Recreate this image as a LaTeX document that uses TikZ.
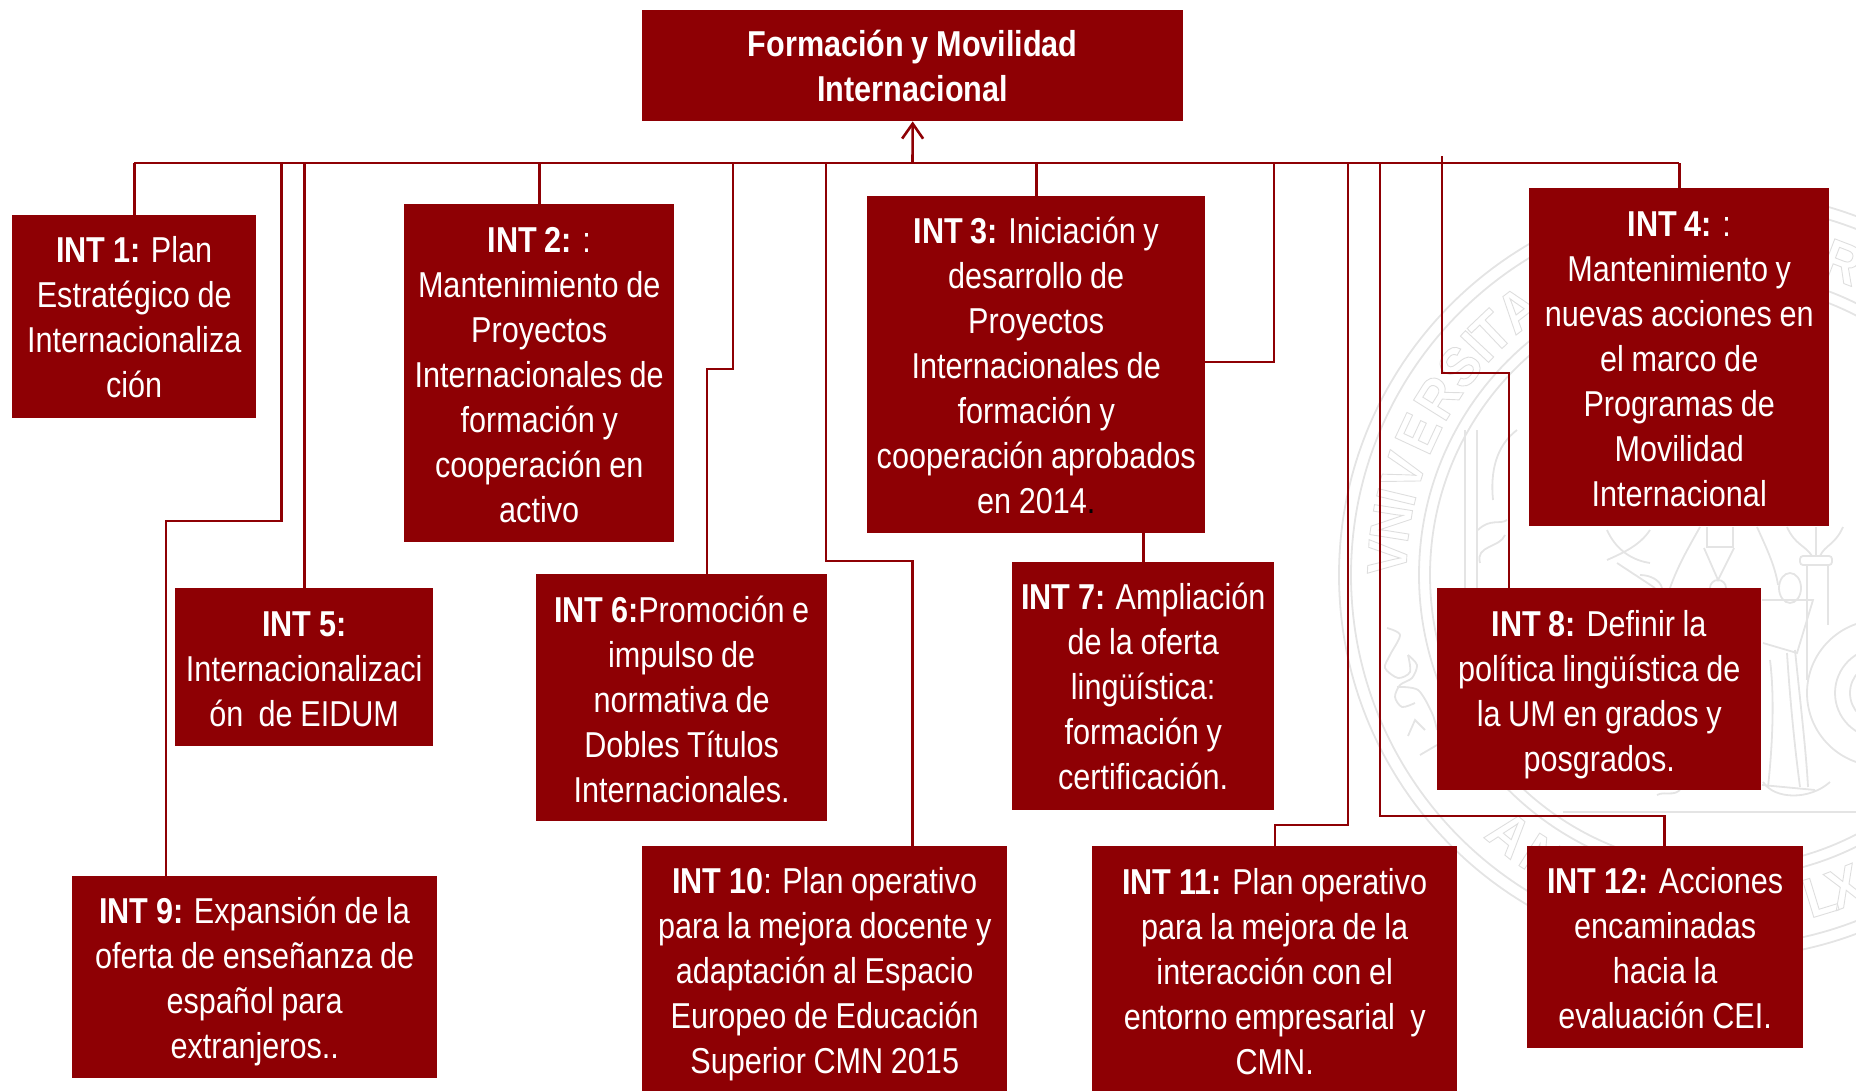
\documentclass[tikz,border=0pt]{standalone}
\usepackage{fontspec}
\usetikzlibrary{calc,arrows.meta}
\setmainfont{Liberation Sans}[FakeStretch=0.85,WordSpace=0.9]
\newfontfamily\sealfont{Liberation Sans}[FakeStretch=0.92]
\definecolor{umred}{HTML}{8E0004}
\definecolor{sealgray}{HTML}{E4E4E4}
\newcommand\sealletter[1]{\special{pdf:code 1 Tr 0.9 w 0.87 G}#1\special{pdf:code 0 Tr}}
\newcommand\bt[1]{\textbf{#1}}
\tikzset{
  box/.style={fill=umred,anchor=north west,inner sep=0pt},
  boxtext/.style={text=white,align=center,inner sep=0pt,font=\fontsize{36}{45}\selectfont},
  conn/.style={draw=umred,line width=2.6pt,line join=miter},
  seal/.style={draw=sealgray,line width=1.8pt},
  sealtxt/.style={inner sep=0pt,font=\sealfont\bfseries\fontsize{56}{56}\selectfont},
}
% name, x0, y0, x1, y1, text shift, text
\newcommand\boxat[7]{%
  \node[box,minimum width=#4 pt-#2 pt,minimum height=#5 pt-#3 pt] (#1) at (#2,#3) {};
  \node[boxtext] (#1t) at ($(#1.center)+(0,#6)$) {#7};}
\begin{document}
\begin{tikzpicture}[x=1pt,y=-1pt]
\useasboundingbox (0,0) rectangle (1856,1091);
% ---------- watermark seal
\begin{scope}
\clip (0,0) rectangle (1856,1091);
\coordinate (sc) at (1722,575);
\foreach \r in {383,371,303,292} \draw[seal] (sc) circle[radius=\r pt];
\foreach \a/\l/\i in {177/V/1,171/N/2,166.5/I/3,162/V/4,155/E/5,148/R/6,141.5/S/7,137/I/8,133.5/T/9,127.5/A/10,69/R/11}
  \node[sealtxt,rotate=\a-90] (s\i) at ({1722+335*cos(\a)},{575-335*sin(\a)}) {\sealletter{\l}};
\foreach \a/\l/\i in {230.6/A/12,237.5/N/13,287/L/14,291.5/X/15}
  \node[sealtxt,rotate=\a+90] (s\i) at ({1722+335*cos(\a)},{575-335*sin(\a)}) {\sealletter{\l}};
% pedestal line
\draw[seal] (1563,812) -- (1856,812);
% left column and capital
\draw[seal] (1465,430) -- (1465,590) (1477,430) -- (1477,590);
\draw[seal] (1493,500) .. controls (1490,470) and (1497,445) .. (1517,430);
\draw[seal] (1478,530) .. controls (1490,518) and (1500,525) .. (1507,520);
\draw[seal] (1480,563) .. controls (1475,545) and (1500,548) .. (1505,535);
% left scroll
\draw[seal] plot[smooth] coordinates {(1387,628)(1400,635)(1390,655)(1385,668)(1398,678)(1410,672)(1408,655)};
\draw[seal] plot[smooth] coordinates {(1408,655)(1417,665)(1412,678)(1400,685)(1395,697)(1402,707)(1415,703)};
\draw[seal] plot[smooth] coordinates {(1397,687)(1418,690)(1432,713)(1437,730)};
\draw[seal] (1408,736) -- (1415,720) -- (1425,730) (1420,755) -- (1437,745);
% left foliage below INT 4
\draw[seal] (1607,530) .. controls (1615,548) and (1630,560) .. (1650,563);
\draw[seal] (1650,530) .. controls (1640,545) and (1625,552) .. (1607,560);
\draw[seal] (1617,563) -- (1655,588);
\draw[seal] (1640,575) .. controls (1650,575) and (1660,580) .. (1662,588);
% central figure
\draw[seal] (1700,527) .. controls (1690,545) and (1678,565) .. (1670,588);
\draw[seal] (1757,527) .. controls (1765,545) and (1775,565) .. (1778,585);
\draw[seal] (1707,527) -- (1707,547) -- (1733,547) -- (1733,527);
\draw[seal] (1704,548) -- (1718,580) -- (1734,548);
\draw[seal] (1718,588) circle[radius=8pt];
% right column
\draw[seal] (1787,527) .. controls (1795,545) and (1805,545) .. (1812,556);
\draw[seal] (1843,527) .. controls (1835,545) and (1825,545) .. (1820,556);
\draw[seal] (1816,527) -- (1816,556);
\draw[seal,rounded corners=3pt] (1800,556) rectangle (1832,565);
\draw[seal] (1807,565) -- (1807,680) (1828,565) -- (1828,625);
% hand and book
\draw[seal] (1790,588) ellipse[x radius=11pt,y radius=15pt];
\draw[seal] (1762,600) -- (1813,600) -- (1797,653) -- (1763,643);
% robe folds
\draw[seal] (1787,653) .. controls (1790,700) and (1795,750) .. (1800,787);
\draw[seal] (1795,650) .. controls (1800,700) and (1806,750) .. (1808,787);
\draw[seal] (1770,660) .. controls (1775,700) and (1772,750) .. (1768,787);
\draw[seal] (1762,785) -- (1815,790);
% medallion
\draw[seal] (1880,693) circle[radius=73pt] (1880,693) circle[radius=45pt] (1880,693) circle[radius=30pt];
% bottom scrolls
\draw[seal] (1657,795) .. controls (1665,790) and (1680,800) .. (1683,782);
\draw[seal] (1763,782) .. controls (1775,800) and (1810,800) .. (1830,782);
\end{scope}
% ---------- boxes
\boxat{top}{642}{10}{1183}{121}{0}{\bt{Formación y Movilidad}\\\bt{Internacional}}
\boxat{int1}{12}{215}{256}{418}{0.5}{\bt{INT 1:} Plan\\Estratégico de\\Internacionaliza\\ción}
\boxat{int2}{404}{204}{674}{542}{1.5}{\bt{INT 2:} :\\Mantenimiento de\\Proyectos\\Internacionales de\\formación y\\cooperación en\\activo}
\boxat{int3}{867}{196}{1205}{533}{1}{\bt{INT 3:} Iniciación y\\desarrollo de\\Proyectos\\Internacionales de\\formación y\\cooperación aprobados\\en 2014\textcolor{black}{.}}
\boxat{int4}{1529}{188}{1829}{526}{2.5}{\bt{INT 4:} :\\Mantenimiento y\\nuevas acciones en\\el marco de\\Programas de\\Movilidad\\Internacional}
\boxat{int5}{175}{588}{433}{746}{2.5}{\bt{INT 5:}\\Internacionalizaci\\ón\ \ de EIDUM}
\boxat{int6}{536}{574}{827}{821}{1.5}{\bt{INT 6:}Promoción e\\impulso de\\normativa de\\Dobles Títulos\\Internacionales.}
\boxat{int7}{1012}{562}{1274}{810}{0.5}{\bt{INT 7:} Ampliación\\de la oferta\\lingüística:\\formación y\\certificación.}
\boxat{int8}{1437}{588}{1761}{790}{5}{\bt{INT 8:} Definir la\\política lingüística de\\la UM en grados y\\posgrados.}
\boxat{int9}{72}{876}{437}{1078}{4.5}{\bt{INT 9:} Expansión de la\\oferta de enseñanza de\\español para\\extranjeros..}
\boxat{int10}{642}{846}{1007}{1091}{5.5}{\bt{INT 10}: Plan operativo\\para la mejora docente y\\adaptación al Espacio\\Europeo de Educación\\Superior CMN 2015}
\boxat{int11}{1092}{846}{1457}{1091}{2.5}{\bt{INT 11:} Plan operativo\\para la mejora de la\\interacción con el\\entorno empresarial\ \ y\\CMN.}
\boxat{int12}{1527}{846}{1803}{1048}{1}{\bt{INT 12:} Acciones\\encaminadas\\hacia la\\evaluación CEI.}
% ---------- connectors
\coordinate (bus) at (912.5,163);
\coordinate (busl) at (134,163);
\coordinate (busr) at (1678.5,163);
\draw[conn] (busl) -- (busr);
\draw[conn,-{Straight Barb[length=15pt,width=21pt,line width=2.6pt]}] (bus) -- (top.south);
\draw[conn] (int1.north) -- (int1.north |- bus);
\draw[conn] (int2.north) -- (int2.north |- bus);
\draw[conn] (int3.north) -- (int3.north |- bus);
\draw[conn] (int4.north) -- (int4.north |- bus);
\draw[conn] (int5.north) -- (int5.north |- bus);
\draw[conn] ($(int9.north west)+(94,0)$) |- (281.5,521) -- (281.5,163);
\draw[conn] ($(int6.north west)+(171,0)$) |- (733,369) -- (733,163);
\draw[conn] ($(int10.north west)+(270.5,0)$) |- (826,561) -- (826,163);
\draw[conn] (int3.east |- 0,362) -| (1274,163);
\draw[conn] ($(int7.north west)+(131.5,0)$) -- ($(int3.south west)+(276.5,0)$);
\draw[conn] ($(int11.north west)+(183,0)$) |- (1348,825) -- (1348,163);
\draw[conn] ($(int12.north west)+(137.5,0)$) |- (1380,816) -- (1380,163);
\draw[conn] ($(int8.north west)+(72,0)$) |- (1442,373) -- (1442,156);
\end{tikzpicture}
\end{document}
